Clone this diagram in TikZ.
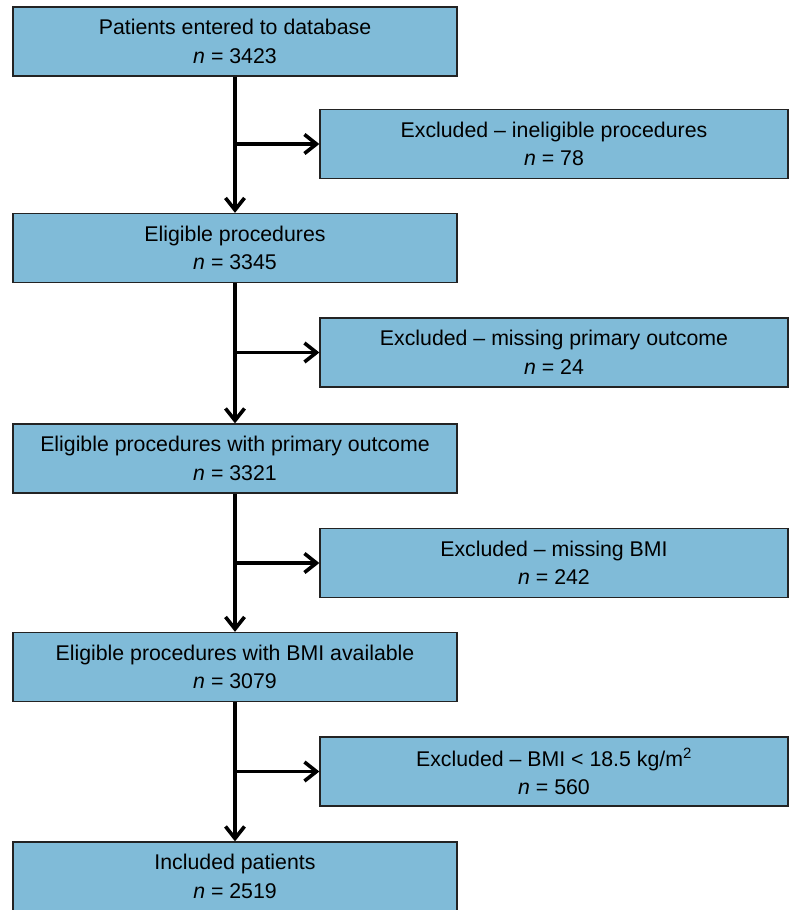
\documentclass[tikz,border=0pt]{standalone}
\usepackage{fontspec}
\setmainfont{Liberation Sans}
\usetikzlibrary{arrows.meta}
\definecolor{boxblue}{RGB}{128,187,216}
\definecolor{boxedge}{RGB}{35,35,35}
\tikzset{
  flowbox/.style={draw=boxedge, line width=1.3pt, fill=boxblue, align=center,
    inner sep=0pt, font=\fontsize{21.3}{28.5}\selectfont},
  leftbox/.style={flowbox, minimum width=444pt, minimum height=69pt},
  rightbox/.style={flowbox, minimum width=468pt, minimum height=69pt},
  arr/.style={line width=3.8pt, -{Straight Barb[length=12pt, width=19pt, line width=3.6pt]}}
}
\begin{document}
\begin{tikzpicture}[x=1pt, y=-1pt]
\useasboundingbox (0,0) rectangle (789,910);
\node[leftbox]  (L1) at (235,41.5) {Patients entered to database\\\textit{n} = 3423};
\node[rightbox] (R1) at (554,144) {Excluded -- ineligible procedures\\\textit{n} = 78};
\node[leftbox]  (L2) at (235,248) {Eligible procedures\\\textit{n} = 3345};
\node[rightbox] (R2) at (554,352.5) {Excluded -- missing primary outcome\\\textit{n} = 24};
\node[leftbox]  (L3) at (235,458.5) {Eligible procedures with primary outcome\\\textit{n} = 3321};
\node[rightbox] (R3) at (554,563) {Excluded -- missing BMI\\\textit{n} = 242};
\node[leftbox]  (L4) at (235,667) {Eligible procedures with BMI available\\\textit{n} = 3079};
\node[rightbox] (R4) at (554,771.5) {Excluded -- BMI < 18.5 kg/m\textsuperscript{2}\\\textit{n} = 560};
\node[leftbox]  (L5) at (235,876.5) {Included patients\\\textit{n} = 2519};
\draw[arr] (L1.south) -- (L2.north);
\draw[arr] (L2.south) -- (L3.north);
\draw[arr] (L3.south) -- (L4.north);
\draw[arr] (L4.south) -- (L5.north);
\draw[arr] (L1.south |- R1.west) -- (R1.west);
\draw[arr] (L2.south |- R2.west) -- (R2.west);
\draw[arr] (L3.south |- R3.west) -- (R3.west);
\draw[arr] (L4.south |- R4.west) -- (R4.west);
\end{tikzpicture}
\end{document}
